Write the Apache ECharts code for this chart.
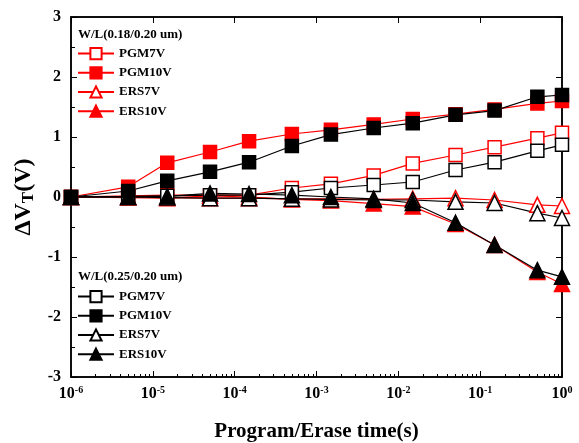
<!DOCTYPE html>
<html>
<head>
<meta charset="utf-8">
<script src="https://cdn.jsdelivr.net/npm/echarts@6/dist/echarts.min.js"></script>
<style>html,body{margin:0;padding:0;background:#fff}#c{width:579px;height:443px}</style>
</head>
<body>
<div id="c"></div>
<script>
// time points (s)
var times = [1e-6, 5e-6, 1.5e-5, 5e-5, 1.5e-4, 5e-4, 1.5e-3, 5e-3, 1.5e-2, 5e-2, 1.5e-1, 5e-1, 1];
// W/L(0.18/0.20 um) - red
var redPGM7V  = [0, 0.02, 0.03, 0.03, 0.03, 0.15, 0.22, 0.36, 0.56, 0.70, 0.83, 0.98, 1.07];
var redPGM10V = [0, 0.17, 0.57, 0.75, 0.93, 1.05, 1.12, 1.21, 1.30, 1.38, 1.46, 1.56, 1.60];
var redERS7V  = [0, 0, -0.01, -0.02, -0.02, -0.03, -0.03, -0.04, -0.03, -0.02, -0.05, -0.13, -0.15];
var redERS10V = [0, -0.01, -0.02, 0.02, 0.0, -0.04, -0.06, -0.11, -0.16, -0.45, -0.80, -1.25, -1.45];
// W/L(0.25/0.20 um) - black
var blkPGM7V  = [0, 0.01, 0.02, 0.03, 0.03, 0.08, 0.15, 0.20, 0.25, 0.45, 0.58, 0.77, 0.87];
var blkPGM10V = [0, 0.10, 0.27, 0.42, 0.58, 0.85, 1.04, 1.15, 1.23, 1.37, 1.44, 1.67, 1.70];
var blkERS7V  = [0, 0, -0.01, -0.02, -0.02, -0.03, -0.04, -0.05, -0.05, -0.08, -0.10, -0.27, -0.35];
var blkERS10V = [0, 0, 0.01, 0.06, 0.05, 0.03, 0.0, -0.03, -0.10, -0.43, -0.80, -1.22, -1.33];
var legendNames = ['PGM7V', 'PGM10V', 'ERS7V', 'ERS10V'];
var legendTitles = ['W/L(0.18/0.20 um)', 'W/L(0.25/0.20 um)'];

var FONT = 'Liberation Serif';
function pairs(v){ return times.map(function(t,i){ return [t, v[i]]; }); }
function mk(name, color, vals, symbol, filled){
  return {
    name: name, type: 'line', data: pairs(vals),
    xAxisIndex: 0, yAxisIndex: 0,
    symbol: symbol, symbolSize: symbol === 'triangle' ? 15 : 13,
    lineStyle: {color: color, width: 1.2},
    itemStyle: {color: filled ? color : '#fff', borderColor: color, borderWidth: 1.5},
    emphasis: {disabled: true}, animation: false
  };
}
var legendText = {fontFamily: FONT, fontWeight: 'bold', fontSize: 13, color: '#000'};
var tickCommon = {show: true, inside: true, length: 6, lineStyle: {color: '#000', width: 1}};
var lineCommon = {show: true, onZero: false, lineStyle: {color: '#000', width: 1.5}};
var chart = echarts.init(document.getElementById('c'));
chart.setOption({
  backgroundColor: '#fff',
  animation: false,
  grid: {left: 71, right: 17, top: 17, bottom: 66, outerBoundsMode: 'none', containLabel: false,
         show: true, borderColor: '#000', borderWidth: 1.5, backgroundColor: 'transparent'},
  xAxis: [{
    type: 'log', logBase: 10, min: 1e-6, max: 1, position: 'bottom',
    axisLine: lineCommon,
    axisTick: tickCommon,
    minorTick: {show: true, splitNumber: 9, length: 3, lineStyle: {color: '#000'}},
    splitLine: {show: false},
    axisLabel: {
      margin: 8,
      formatter: function(v){ return '{b|10}{s|' + Math.round(Math.log(v) / Math.LN10) + '}'; },
      rich: {
        b: {fontFamily: FONT, fontWeight: 'bold', fontSize: 16, color: '#000'},
        s: {fontFamily: FONT, fontWeight: 'bold', fontSize: 10, color: '#000', verticalAlign: 'top', padding: [0,0,8,0]}
      }
    },
    name: 'Program/Erase time(s)', nameLocation: 'middle', nameGap: 44,
    nameTextStyle: {fontFamily: FONT, fontWeight: 'bold', fontSize: 21, color: '#000'}
  }, {
    type: 'log', logBase: 10, min: 1e-6, max: 1, position: 'top', gridIndex: 0,
    axisLine: lineCommon,
    axisTick: tickCommon,
    axisLabel: {show: false}, splitLine: {show: false}
  }],
  yAxis: [{
    type: 'value', min: -3, max: 3, interval: 1, position: 'left',
    axisLine: lineCommon,
    axisTick: tickCommon,
    minorTick: {show: true, splitNumber: 2, length: 4, lineStyle: {color: '#000'}},
    splitLine: {show: false},
    axisLabel: {margin: 10, fontFamily: FONT, fontWeight: 'bold', fontSize: 16, color: '#000'},
    name: '{a|ΔV}{t|T}{a|(V)}', nameLocation: 'middle', nameGap: 29, nameRotate: 90,
    nameTextStyle: {rich: {
      a: {fontFamily: FONT, fontWeight: 'bold', fontSize: 24, color: '#000'},
      t: {fontFamily: FONT, fontWeight: 'bold', fontSize: 17, color: '#000', verticalAlign: 'bottom', padding: [9,0,0,0]}
    }}
  }, {
    type: 'value', min: -3, max: 3, interval: 1, position: 'right', gridIndex: 0,
    axisLine: lineCommon,
    axisTick: tickCommon,
    axisLabel: {show: false}, splitLine: {show: false}
  }],
  legend: [{
    orient: 'vertical', left: 77, top: 47, itemWidth: 36, itemHeight: 14, itemGap: 6,
    data: legendNames.map(function(n){ return n + '_a'; }),
    formatter: function(n){ return n.split('_')[0]; },
    textStyle: legendText, padding: 0, selectedMode: false
  }, {
    orient: 'vertical', left: 77, top: 290, itemWidth: 36, itemHeight: 14, itemGap: 6,
    data: legendNames.map(function(n){ return n + '_b'; }),
    formatter: function(n){ return n.split('_')[0]; },
    textStyle: legendText, padding: 0, selectedMode: false
  }],
  graphic: [
    {type: 'text', left: 78, top: 28, style: {text: legendTitles[0], font: 'bold 13px "Liberation Serif"', fill: '#000'}},
    {type: 'text', left: 78, top: 270, style: {text: legendTitles[1], font: 'bold 13px "Liberation Serif"', fill: '#000'}}
  ],
  series: [
    mk('PGM7V_a', '#ff0000', redPGM7V, 'rect', false),
    mk('PGM10V_a', '#ff0000', redPGM10V, 'rect', true),
    mk('ERS7V_a', '#ff0000', redERS7V, 'triangle', false),
    mk('ERS10V_a', '#ff0000', redERS10V, 'triangle', true),
    mk('PGM7V_b', '#000000', blkPGM7V, 'rect', false),
    mk('PGM10V_b', '#000000', blkPGM10V, 'rect', true),
    mk('ERS7V_b', '#000000', blkERS7V, 'triangle', false),
    mk('ERS10V_b', '#000000', blkERS10V, 'triangle', true)
  ]
});
</script>
</body>
</html>
